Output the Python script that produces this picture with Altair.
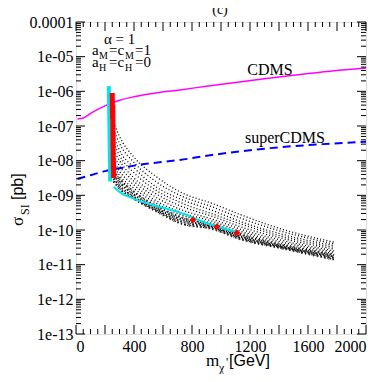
import altair as alt
import pandas as pd

W, H = 290, 312
SERIF = "Liberation Serif"

# CDMS limit (magenta)
cdms_m = [10, 50, 100, 200, 300, 400, 550, 717, 900, 1100, 1300, 1500, 1750, 2000]
cdms_s = [1.6e-07, 1.7e-07, 2.3e-07, 3.8e-07, 5.5e-07, 7.0e-07, 9.0e-07, 1.1e-06,
          1.4e-06, 1.8e-06, 2.3e-06, 2.9e-06, 3.8e-06, 4.7e-06]
# superCDMS projection (blue dashed)
scdms_m = [10, 100, 200, 300, 400, 550, 717, 960, 1340, 1700, 2000]
scdms_s = [3.0e-09, 3.8e-09, 5.0e-09, 6.0e-09, 7.2e-09, 8.7e-09, 1.05e-08, 1.5e-08,
           2.3e-08, 3.0e-08, 3.5e-08]

# scan curves (black dotted), log10(sigma) read at these masses
scan_m = [260, 300, 400, 550, 717, 950, 1130, 1400, 1780]
scan_log = [
    [-6.9, -7.3, -7.9, -8.45, -8.9, -9.25, -9.55, -9.95, -10.35],
    [-7.1, -7.5, -8.05, -8.6, -9.0, -9.35, -9.65, -10.02, -10.40],
    [-7.3, -7.7, -8.2, -8.75, -9.1, -9.45, -9.75, -10.1, -10.45],
    [-7.5, -7.85, -8.35, -8.85, -9.2, -9.55, -9.82, -10.16, -10.50],
    [-7.7, -8.0, -8.5, -8.95, -9.3, -9.62, -9.9, -10.22, -10.55],
    [-7.85, -8.15, -8.6, -9.05, -9.4, -9.7, -9.97, -10.28, -10.60],
    [-8.0, -8.3, -8.7, -9.15, -9.48, -9.76, -10.03, -10.33, -10.64],
    [-8.15, -8.42, -8.8, -9.22, -9.55, -9.82, -10.08, -10.38, -10.68],
    [-8.3, -8.52, -8.9, -9.3, -9.62, -9.87, -10.13, -10.42, -10.72],
    [-8.42, -8.62, -8.98, -9.36, -9.68, -9.91, -10.18, -10.46, -10.76],
    [-8.52, -8.72, -9.05, -9.41, -9.74, -9.94, -10.22, -10.48, -10.80],
    [-8.6, -8.8, -9.1, -9.45, -9.8, -9.98, -10.26, -10.51, -10.85],
]
dense_rows = [8, 9, 10, 11]

# highlighted points
cyan_v_m = [226, 228, 230, 232, 234, 236]
cyan_v_log = [-5.85, -6.3, -6.9, -7.5, -8.1, -8.6]
cyan_b_m = [260, 300, 400, 550, 717, 900, 1100]
cyan_b_log = [-8.75, -8.9, -9.1, -9.3, -9.5, -9.8, -10.05]
red_v_m = [250, 254, 252, 256, 255, 258, 257, 260]
red_v_log = [-6.05, -6.4, -6.8, -7.2, -7.6, -7.95, -8.25, -8.5]
red_p_m = [807, 972, 1110]
red_p_log = [-9.71, -9.9, -10.08]

y_ticks = [1e-13, 1e-12, 1e-11, 1e-10, 1e-09, 1e-08, 1e-07, 1e-06, 1e-05, 1e-04]
x_ticks = [0, 400, 800, 1200, 1600, 2000]

xs = alt.Scale(domain=[0, 2000], nice=False, zero=False)
ys = alt.Scale(type="log", domain=[1e-13, 1e-04], nice=False)

xaxis = alt.Axis(values=x_ticks, format="d", grid=False, ticks=False, domain=False,
                 labelFont=SERIF, labelFontSize=16, labelColor="black", labelPadding=4, title=None)
yaxis = alt.Axis(values=y_ticks, grid=False, ticks=False, domain=False,
                 labelFont=SERIF, labelFontSize=16, labelColor="black", labelPadding=3, title=None,
                 labelExpr="datum.value > 5e-05 ? '0.0001' : '1e-' + (round(-log(datum.value)/LN10) < 10 ? '0' : '') + round(-log(datum.value)/LN10)")
X = alt.X("m:Q", scale=xs, axis=xaxis)
Y = alt.Y("s:Q", scale=ys, axis=yaxis)

rows = []
for i, ls in enumerate(scan_log):
    for m, l in zip(scan_m, ls):
        rows.append({"m": m, "s": 10 ** l, "k": i})
scan_df = pd.DataFrame(rows)
dense_df = scan_df[scan_df["k"].isin(dense_rows)]

scan = alt.Chart(scan_df).mark_line(color="black", strokeWidth=1.3, strokeDash=[1, 2.2],
                                    interpolate="monotone").encode(x=X, y=Y, detail="k:N")
dense = alt.Chart(dense_df).mark_line(color="black", strokeWidth=2.4, strokeDash=[1.2, 2.8],
                                      interpolate="monotone", opacity=0.8).encode(x=X, y=Y, detail="k:N")

cdms = alt.Chart(pd.DataFrame({"m": cdms_m, "s": cdms_s})).mark_line(
    color="#ff00ff", strokeWidth=1.5, interpolate="monotone").encode(x=X, y=Y)
sc = alt.Chart(pd.DataFrame({"m": scdms_m, "s": scdms_s})).mark_line(
    color="#0000ff", strokeWidth=2, strokeDash=[8, 5], interpolate="monotone").encode(x=X, y=Y)

cyv = alt.Chart(pd.DataFrame({"m": cyan_v_m, "s": [10 ** l for l in cyan_v_log]})).mark_line(
    color="#00e5ee", strokeWidth=4).encode(x=X, y=Y)
cyb = alt.Chart(pd.DataFrame({"m": cyan_b_m, "s": [10 ** l for l in cyan_b_log]})).mark_line(
    color="#00e5ee", strokeWidth=2, interpolate="monotone").encode(x=X, y=Y)
rdv = alt.Chart(pd.DataFrame({"m": red_v_m, "s": [10 ** l for l in red_v_log]})).mark_line(
    color="red", strokeWidth=5).encode(x=X, y=Y)
rdp = alt.Chart(pd.DataFrame({"m": red_p_m, "s": [10 ** l for l in red_p_log]})).mark_point(
    color="red", filled=True, shape="diamond", size=45, opacity=1).encode(x=X, y=Y)

# inward ticks
ymaj = pd.DataFrame({"s": y_ticks})
ymin_vals = [k * 10 ** e for e in range(-13, -4) for k in range(2, 10)]
ymin = pd.DataFrame({"s": ymin_vals})
xmaj = pd.DataFrame({"m": list(range(0, 2001, 200))})
xmin = pd.DataFrame({"m": [v for v in range(0, 2001, 50) if v % 200]})

def ytick(df, L):
    l = alt.Chart(df).mark_rule(color="black").encode(y=Y, x=alt.value(0), x2=alt.value(L))
    r = alt.Chart(df).mark_rule(color="black").encode(y=Y, x=alt.value(W - L), x2=alt.value(W))
    return l + r

def xtick(df, L):
    b = alt.Chart(df).mark_rule(color="black").encode(x=X, y=alt.value(H - L), y2=alt.value(H))
    t = alt.Chart(df).mark_rule(color="black").encode(x=X, y=alt.value(0), y2=alt.value(L))
    return b + t

ticks = ytick(ymaj, 9) + ytick(ymin, 5) + xtick(xmaj, 9) + xtick(xmin, 5)

# curve labels
lab = pd.DataFrame({"m": [1338, 1441], "s": [4.2e-06, 4.6e-08], "t": ["CDMS", "superCDMS"]})
labels = alt.Chart(lab).mark_text(font=SERIF, fontSize=16, color="black").encode(
    x=X, y=Y, text="t:N")

def txt(t, x, y, size=15, font=SERIF, angle=0, align="left"):
    return alt.Chart(pd.DataFrame({"t": [t]})).mark_text(
        font=font, fontSize=size, align=align, baseline="alphabetic", angle=angle, color="black"
    ).encode(x=alt.value(x), y=alt.value(y), text="t:N")

ann = (
    txt("α = 1", 28, 22)
    + txt("a", 16, 33) + txt("M", 23, 37, 10) + txt("=c", 33, 33) + txt("M", 49, 37, 10) + txt("=1", 59, 33)
    + txt("a", 16, 45) + txt("H", 23, 49, 10) + txt("=c", 33, 45) + txt("H", 49, 49, 10) + txt("=0", 59, 45)
    + txt("(c)", 144, -8, 14, align="center")
    + txt("m", 130, 344, 17) + txt("χ", 143, 350, 12) + txt("'", 150, 344, 12) + txt("[GeV]", 153, 344, 16, "Liberation Sans")
    + txt("σ", -53, 204, 17, angle=270) + txt("SI", -47, 193, 12, angle=270) + txt("[pb]", -53, 178, 16, "Liberation Sans", angle=270)
)

chart = alt.layer(scan, dense, sc, cdms, cyv, cyb, rdv, rdp, ticks, labels, ann).properties(
    width=W, height=H,
    autosize=alt.AutoSizeParams(type="none"),
    padding={"left": 68, "top": 14, "right": 8, "bottom": 40},
).configure_view(stroke="black", strokeWidth=1.5).configure_axis(
    labelFont=SERIF, labelFontSize=16, labelColor="black"
).configure(background="white")

chart.save("out.html", embed_options={"renderer": "svg", "actions": False})
